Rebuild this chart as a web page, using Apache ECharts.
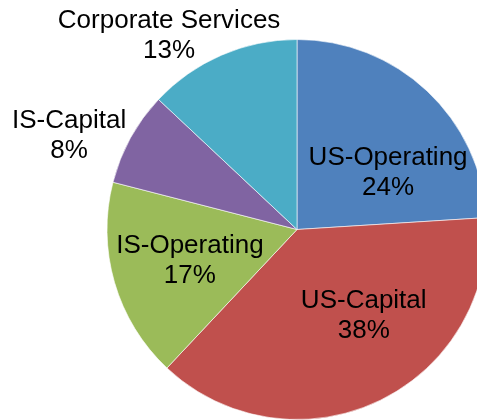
<!DOCTYPE html>
<html>
<head>
<meta charset="utf-8">
<script src="https://cdn.jsdelivr.net/npm/echarts@6/dist/echarts.min.js"></script>
<style>
html,body{margin:0;padding:0;background:#fff;}
#chart{width:477px;height:420px;}
</style>
</head>
<body>
<div id="chart"></div>
<script>
const categories = ['US-Operating', 'US-Capital', 'IS-Operating', 'IS-Capital', 'Corporate Services'];
const values = [24, 38, 17, 8, 13];
const colors = ['#4F81BD', '#C0504D', '#9BBB59', '#8064A2', '#4BACC6'];
const labelOffsets = [[24, 15], [25, -2], [-13, 4], [-142, -46], [-89, -104]];

const chart = echarts.init(document.getElementById('chart'), null, {renderer: 'canvas'});
chart.setOption({
  animation: false,
  backgroundColor: '#ffffff',
  series: [{
    type: 'pie',
    center: [297, 229.5],
    radius: 190,
    startAngle: 90,
    clockwise: true,
    avoidLabelOverlap: false,
    itemStyle: {borderColor: '#ffffff', borderWidth: 0.6},
    label: {
      show: true,
      position: 'inside',
      color: '#000000',
      fontFamily: 'Liberation Sans, Arial, sans-serif',
      fontSize: 26,
      lineHeight: 30,
      align: 'center',
      formatter: p => p.name + '\n' + Math.round(p.percent) + '%'
    },
    labelLine: {show: false},
    emphasis: {disabled: true},
    data: categories.map((c, i) => ({
      name: c,
      value: values[i],
      itemStyle: {color: colors[i]},
      label: {offset: labelOffsets[i]}
    }))
  }]
});
</script>
</body>
</html>
